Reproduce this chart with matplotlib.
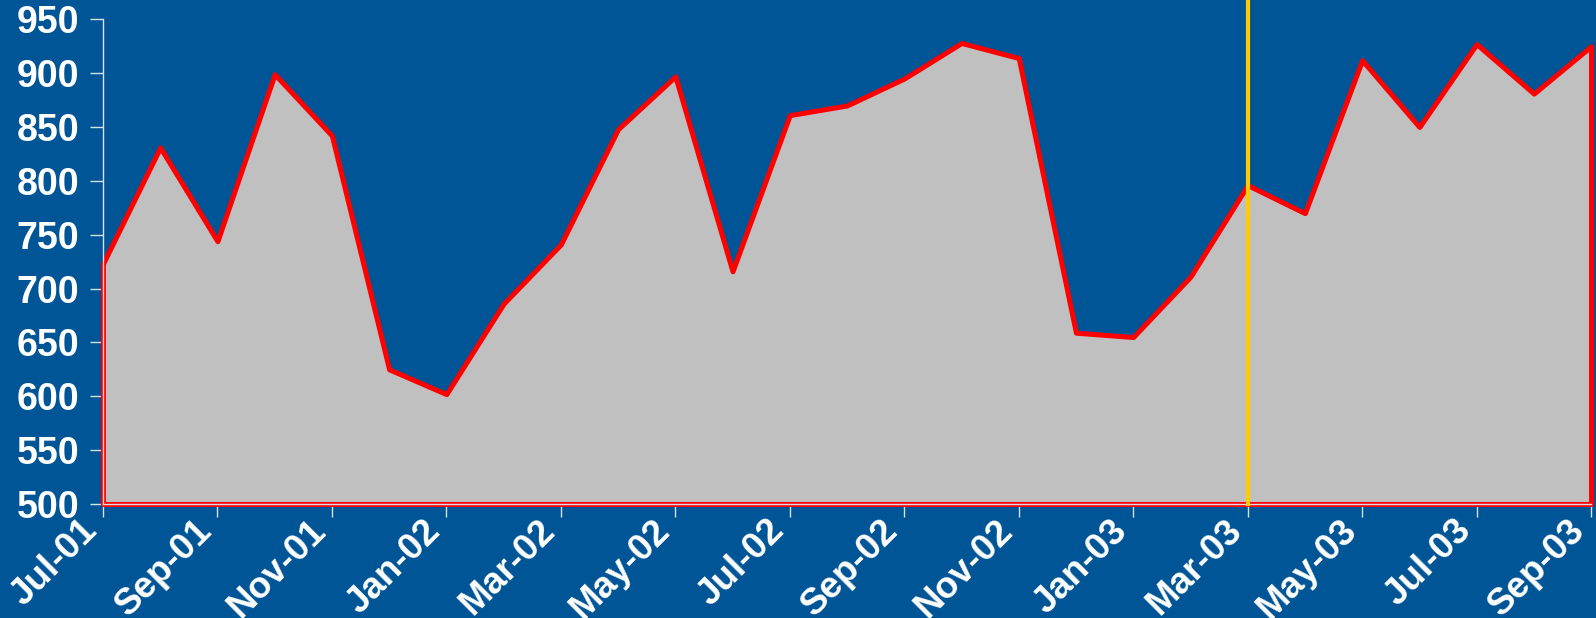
import matplotlib
matplotlib.use("Agg")
import matplotlib.pyplot as plt
import matplotlib.transforms as mtransforms
import numpy as np

plt.rcParams['font.family'] = ['Liberation Sans', 'DejaVu Sans']

# Monthly series, Jul-01 through Sep-03
months = ["Jul-01", "Aug-01", "Sep-01", "Oct-01", "Nov-01", "Dec-01",
          "Jan-02", "Feb-02", "Mar-02", "Apr-02", "May-02", "Jun-02",
          "Jul-02", "Aug-02", "Sep-02", "Oct-02", "Nov-02", "Dec-02",
          "Jan-03", "Feb-03", "Mar-03", "Apr-03", "May-03", "Jun-03",
          "Jul-03", "Aug-03", "Sep-03"]
values = [723, 831, 744, 899, 842, 625,
          602, 686, 741, 848, 897, 716,
          861, 870, 895, 928, 914, 659,
          655, 711, 796, 770, 912, 850,
          927, 881, 925]
marker_month = "Mar-03"
y_ticks = [500, 550, 600, 650, 700, 750, 800, 850, 900, 950]

bg = "#005596"
fig = plt.figure(figsize=(15.96, 6.18), dpi=100, facecolor=bg)
ax = fig.add_axes([0.0645, 0.1845, 0.9324, 0.7843])
ax.set_facecolor(bg)

x = np.arange(len(months))
ax.fill_between(x, values, y_ticks[0], facecolor="#C0C0C0", edgecolor="red",
                linewidth=3.6, clip_on=False, zorder=2)

# Vertical marker running from the baseline to the top of the figure
xm = months.index(marker_month)
ax.axvline(xm, ymin=0, ymax=1.05, color="#FFCC00", linewidth=3,
           zorder=3, clip_on=False)

ax.set_xlim(0, len(months) - 1)
ax.set_ylim(y_ticks[0], y_ticks[-1])
ax.set_yticks(y_ticks)
ax.set_xticks(x[::2])
ax.set_xticklabels(months[::2], rotation=45, ha="right", va="center",
                   rotation_mode="anchor")

for s in ["top", "right"]:
    ax.spines[s].set_visible(False)
ax.spines["left"].set_color("#D8E0EA")
ax.spines["left"].set_linewidth(1)
ax.spines["bottom"].set_color("#D8E0EA")
ax.spines["bottom"].set_linewidth(1)

ax.tick_params(axis="both", colors="#D8E0EA", length=9.5, width=1, direction="out")
for lab in ax.get_yticklabels():
    lab.set_color("white")
    lab.set_fontweight("bold")
    lab.set_fontsize(27)
ax.tick_params(axis="y", pad=7.5)
ax.tick_params(axis="x", pad=6)

# Nudge the slanted month labels so they end just left of their ticks
shift = mtransforms.ScaledTranslation(-0.11, 0, fig.dpi_scale_trans)
for lab in ax.get_xticklabels():
    lab.set_color("white")
    lab.set_fontweight("bold")
    lab.set_fontsize(26.5)
    lab.set_transform(lab.get_transform() + shift)

fig.savefig("out.png", dpi=100, facecolor=bg)
